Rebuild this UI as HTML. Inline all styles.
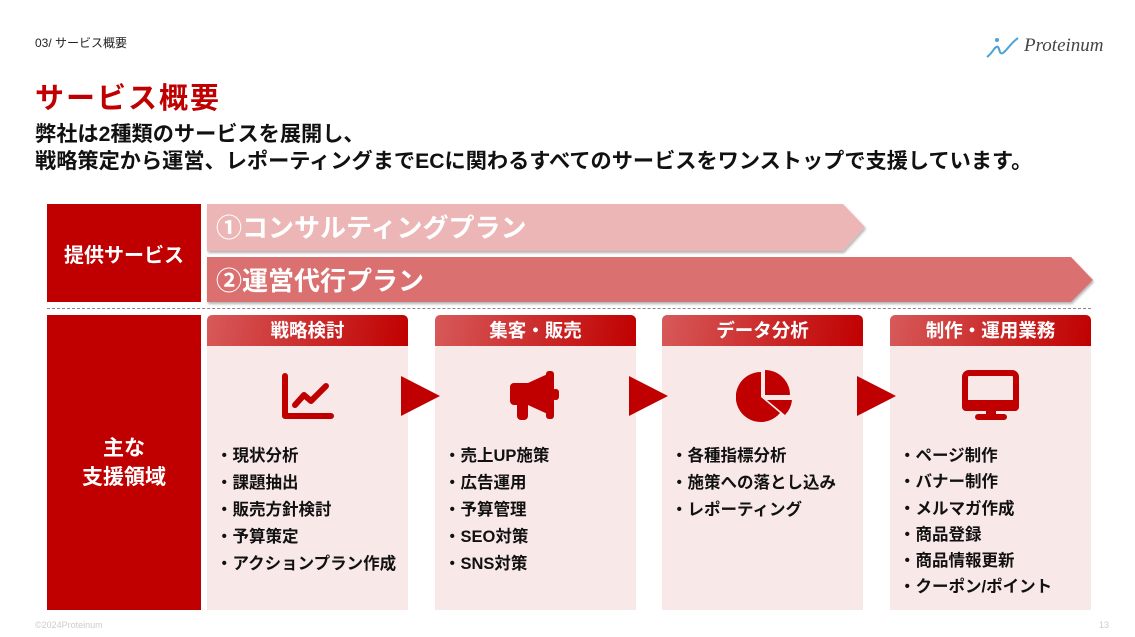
<!DOCTYPE html>
<html><head><meta charset="utf-8"><style>
*{margin:0;padding:0;box-sizing:border-box}
body{width:1135px;height:637px;background:#fff;position:relative;overflow:hidden;font-family:"Liberation Sans","Noto Sans CJK JP",sans-serif;font-weight:bold;color:#111}
.a{position:absolute}
.crumb{left:35px;top:34px;font-size:12px;color:#222;font-weight:normal}
.title{left:35px;top:75px;font-size:29px;color:#c00000;letter-spacing:2px}
.sub{left:35px;top:121px;font-size:21.2px;line-height:27px;color:#111;white-space:nowrap}
.lbox{background:#c00000;color:#fff;display:flex;align-items:center;justify-content:center;text-align:center}
.col{width:201px}
.hd{height:31px;border-radius:5px 5px 0 0;background:linear-gradient(100deg,#d75a5a,#c00000);color:#fff;font-size:18.5px;text-align:center;line-height:31px}
.bd{height:264px;background:#f9e8e8;position:relative}
.bd ul{list-style:none;position:absolute;left:9px;top:97px;font-size:16.5px;color:#111}
.bd li{height:27px;line-height:27px;white-space:nowrap}
.bd li:before{content:"・"}
.tri{width:0;height:0;border-top:20px solid transparent;border-bottom:20px solid transparent;border-left:39px solid #c00000;top:376px}
</style></head><body>
<div class="a crumb">03/ サービス概要</div>
<div class="a" style="left:985px;top:35px">
<svg width="36" height="24" viewBox="0 0 36 24"><path d="M2 22 C8 18,10 10,13 12 C15 14,14 20,18 18 C22 15,26 8,33 3" stroke="#4aa3d8" stroke-width="2" fill="none"/><circle cx="12" cy="5" r="2" fill="#4aa3d8"/></svg>
</div>
<div class="a" style="left:1024px;top:35px;font-family:'Liberation Serif',serif;font-style:italic;font-weight:normal;font-size:19px;color:#444">Proteinum</div>
<div class="a title">サービス概要</div>
<div class="a sub">弊社は2種類のサービスを展開し、<br>戦略策定から運営、レポーティングまでECに関わるすべてのサービスをワンストップで支援しています。</div>

<div class="a lbox" style="left:47px;top:204px;width:154px;height:98px;font-size:20px">提供サービス</div>
<svg class="a" style="left:205px;top:202px" width="900" height="106">
<defs><filter id="s" x="-5%" y="-20%" width="110%" height="150%"><feDropShadow dx="1" dy="2" stdDeviation="1.2" flood-color="#000" flood-opacity="0.3"/></filter></defs>
<polygon points="2,2 638,2 660,25 638,49 2,49" fill="#edb6b6" filter="url(#s)"/>
<polygon points="2,55 866,55 888,78 866,100 2,100" fill="#db7070" filter="url(#s)"/>
<text x="11" y="35" font-size="26" fill="#fff" font-weight="bold" font-family="Liberation Sans,Noto Sans CJK JP,sans-serif">①コンサルティングプラン</text>
<text x="11" y="88" font-size="26" fill="#fff" font-weight="bold" font-family="Liberation Sans,Noto Sans CJK JP,sans-serif">②運営代行プラン</text>
</svg>
<div class="a" style="left:47px;top:308px;width:1044px;border-top:1.5px dashed #888"></div>

<div class="a lbox" style="left:47px;top:315px;width:154px;height:295px;font-size:21px;line-height:29px">主な<br>支援領域</div>

<div class="a col" style="left:207px;top:315px"><div class="hd">戦略検討</div><div class="bd">
<svg class="a" style="left:75px;top:27px" width="52" height="48" viewBox="0 0 52 48"><path d="M3 3 V43 H49" stroke="#c00000" stroke-width="6" fill="none" stroke-linecap="round" stroke-linejoin="round"/><path d="M13 32 L22 22 L29 28 L44 13" stroke="#c00000" stroke-width="6" fill="none" stroke-linecap="round" stroke-linejoin="round"/></svg>
<ul><li>現状分析</li><li>課題抽出</li><li>販売方針検討</li><li>予算策定</li><li>アクションプラン作成</li></ul></div></div>

<div class="a col" style="left:435px;top:315px"><div class="hd">集客・販売</div><div class="bd">
<svg class="a" style="left:75px;top:24px" width="52" height="54" viewBox="0 0 52 54"><rect x="0" y="13" width="22" height="22" rx="4" fill="#c00000"/><polygon points="18,13 42,2 42,46 18,35" fill="#c00000"/><rect x="36" y="1" width="8" height="48" rx="3" fill="#c00000"/><rect x="42" y="19" width="7" height="11" rx="3" fill="#c00000"/><rect x="7" y="30" width="11" height="20" rx="4" fill="#c00000"/></svg>
<ul><li>売上UP施策</li><li>広告運用</li><li>予算管理</li><li>SEO対策</li><li>SNS対策</li></ul></div></div>

<div class="a col" style="left:662px;top:315px"><div class="hd">データ分析</div><div class="bd">
<svg class="a" style="left:74px;top:24px" width="58" height="56" viewBox="0 0 58 56"><path d="M25 27 L25 2 A25 25 0 1 0 44 43 Z" fill="#c00000"/><path d="M29 23 L29 -2 A25 25 0 0 1 54 23 Z" fill="#c00000" transform="translate(0,2)"/><path d="M31 30 L56 30 A25 25 0 0 1 49 45 Z" fill="#c00000"/></svg>
<ul><li>各種指標分析</li><li>施策への落とし込み</li><li>レポーティング</li></ul></div></div>

<div class="a col" style="left:890px;top:315px"><div class="hd">制作・運用業務</div><div class="bd">
<svg class="a" style="left:72px;top:24px" width="58" height="52" viewBox="0 0 58 52"><rect x="3" y="3" width="51" height="35" rx="4" stroke="#c00000" stroke-width="6" fill="none"/><rect x="0" y="30" width="57" height="11" rx="4" fill="#c00000"/><rect x="24" y="38" width="10" height="8" fill="#c00000"/><rect x="13" y="44" width="32" height="6" rx="3" fill="#c00000"/></svg>
<ul style="top:97px"><li style="height:26.3px;line-height:26.3px">ページ制作</li><li style="height:26.3px;line-height:26.3px">バナー制作</li><li style="height:26.3px;line-height:26.3px">メルマガ作成</li><li style="height:26.3px;line-height:26.3px">商品登録</li><li style="height:26.3px;line-height:26.3px">商品情報更新</li><li style="height:26.3px;line-height:26.3px">クーポン/ポイント</li></ul></div></div>

<div class="a tri" style="left:401px"></div>
<div class="a tri" style="left:629px"></div>
<div class="a tri" style="left:857px"></div>

<div class="a" style="left:35px;top:620px;font-size:9px;color:#ccc;font-weight:normal">©2024Proteinum</div>
<div class="a" style="left:1099px;top:620px;font-size:9px;color:#ccc;font-weight:normal">13</div>
</body></html>
